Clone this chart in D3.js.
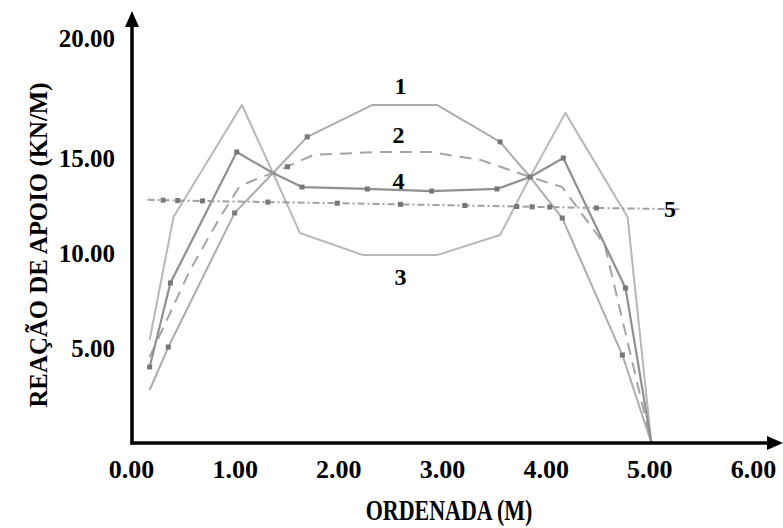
<!DOCTYPE html>
<html>
<head>
<meta charset="utf-8">
<script src="https://cdn.jsdelivr.net/npm/d3@7/dist/d3.min.js"></script>
<style>
  html, body { margin: 0; padding: 0; background: #fff; }
  svg { display: block; }
  text { font-family: "Liberation Serif", "Times New Roman", serif; font-weight: bold; fill: #000; }
</style>
</head>
<body>
<svg id="chart" width="783" height="528"></svg>
<script>
// Support reaction (kN/m) along the ordinate (m) for five load cases
const xTicks = [0, 1, 2, 3, 4, 5, 6];
const yTicks = [5, 10, 15, 20];

const series1 = [[0.18, 2.79], [0.36, 5.05], [1.0, 12.11], [1.37, 14.21], [1.70, 15.88], [2.33, 17.21],
                 [2.95, 17.21], [3.56, 15.67], [3.85, 14.0], [4.16, 11.84], [4.74, 4.63], [5.02, 0]];
const series2 = [[0.18, 4.53], [0.57, 9.11], [0.86, 11.89], [1.05, 13.53], [1.24, 13.95], [1.37, 14.21],
                 [1.76, 15.13], [2.4, 15.25], [2.88, 15.25], [3.37, 14.9], [3.85, 14.0], [4.16, 13.47],
                 [4.57, 10.42], [5.02, 0]];
const series3 = [[0.18, 5.42], [0.41, 11.89], [1.07, 17.21], [1.37, 14.21], [1.63, 11.05], [2.24, 9.89],
                 [2.95, 9.89], [3.56, 10.95], [3.70, 12.42], [3.85, 14.0], [4.19, 16.88], [4.79, 11.89], [5.02, 0]];
const series4 = [[0.18, 4.0], [0.38, 8.42], [1.02, 15.25], [1.37, 14.21], [1.65, 13.47], [2.28, 13.37],
                 [2.90, 13.26], [3.53, 13.37], [3.85, 14.0], [4.17, 15.0], [4.77, 8.16], [5.02, 0]];
const series5 = [[0.16, 12.8], [0.31, 12.78], [0.45, 12.76], [0.69, 12.74], [1.02, 12.71], [1.32, 12.68],
                 [1.99, 12.62], [2.6, 12.56], [3.22, 12.5], [3.72, 12.45], [3.87, 12.43], [4.04, 12.42],
                 [4.49, 12.37], [5.3, 12.3]];

const markers1 = [[0.36, 5.05], [1.0, 12.11], [1.70, 15.88], [3.56, 15.67], [4.16, 11.84], [4.74, 4.63]];
const markers2 = [[1.51, 14.54]];
const markers4 = [[0.18, 4.0], [0.38, 8.42], [1.02, 15.25], [1.65, 13.47], [2.28, 13.37], [2.90, 13.26],
                  [3.53, 13.37], [3.85, 14.0], [4.17, 15.0], [4.77, 8.16]];
const markers5 = [[0.31, 12.78], [0.45, 12.76], [0.69, 12.74], [1.32, 12.68], [1.99, 12.62], [2.6, 12.56],
                  [3.22, 12.5], [3.72, 12.45], [3.87, 12.43], [4.04, 12.42], [4.49, 12.37]];

const curveLabels = [
  { text: "1", x: 2.6, y: 18.0 },
  { text: "2", x: 2.58, y: 15.96 },
  { text: "4", x: 2.58, y: 13.8 },
  { text: "3", x: 2.6, y: 8.75 },
  { text: "5", x: 5.2, y: 12.35 }
];

const svg = d3.select("#chart");
const W = 783;

const x = d3.scaleLinear().domain([0, 6]).range([131, 753]);
const y = d3.scaleLinear().domain([0, 15, 20]).range([443, 158, 38]);

// curves
const line = d3.line().x(d => x(d[0])).y(d => y(d[1]));
const plot = svg.append("g").attr("fill", "none").attr("stroke-linejoin", "round");

plot.append("path").datum(series3).attr("d", line)
  .attr("stroke", "#b8b8b8").attr("stroke-width", 2);
plot.append("path").datum(series1).attr("d", line)
  .attr("stroke", "#acacac").attr("stroke-width", 2);
plot.append("path").datum(series2).attr("d", line)
  .attr("stroke", "#a4a4a4").attr("stroke-width", 2).attr("stroke-dasharray", "12,8");
plot.append("path").datum(series4).attr("d", line)
  .attr("stroke", "#909090").attr("stroke-width", 2.2);
plot.append("path").datum(series5).attr("d", line)
  .attr("stroke", "#a0a0a0").attr("stroke-width", 2).attr("stroke-dasharray", "7,3,2,3");

const mk = svg.append("g").attr("fill", "#777");
const sq = 5;
[markers1, markers2, markers4, markers5].forEach(arr => {
  mk.selectAll(null).data(arr).join("rect")
    .attr("x", d => x(d[0]) - sq / 2).attr("y", d => y(d[1]) - sq / 2)
    .attr("width", sq).attr("height", sq);
});

// axes
const xAxis = d3.axisBottom(x).tickValues(xTicks).tickSize(0).tickFormat(d3.format(".2f"));
const gx = svg.append("g").attr("transform", `translate(0,${y(0)})`).call(xAxis);
gx.select(".domain").remove();
gx.selectAll("text").attr("font-size", 26).attr("font-family", null).attr("fill", "#000")
  .attr("y", 35).attr("dy", 0);

const yAxis = d3.axisLeft(y).tickValues(yTicks).tickSize(0).tickFormat(d3.format(".2f"));
const gy = svg.append("g").attr("transform", `translate(${x(0) + 1},0)`).call(yAxis);
gy.select(".domain").remove();
gy.selectAll("text").attr("font-size", 25).attr("font-family", null).attr("fill", "#000")
  .attr("x", -17).attr("dy", "0.34em");

// axis lines with arrowheads
const ax = svg.append("g");
const x0 = x(0) + 1, y0 = y(0);
ax.append("line").attr("x1", x0).attr("y1", y0 + 1.5).attr("x2", x0).attr("y2", 24)
  .attr("stroke", "#000").attr("stroke-width", 3.5);
ax.append("line").attr("x1", x0 - 1.5).attr("y1", y0).attr("x2", W - 12).attr("y2", y0)
  .attr("stroke", "#000").attr("stroke-width", 3.5);
ax.append("path").attr("d", `M${x0},11 L${x0 - 7},27 L${x0 + 7},27 Z`).attr("fill", "#000");
ax.append("path").attr("d", `M${W},${y0} L${W - 16},${y0 - 7} L${W - 16},${y0 + 7} Z`).attr("fill", "#000");

// axis titles (tall, narrow lettering)
svg.append("text").attr("transform", "translate(449,520) scale(1,1.3)").attr("text-anchor", "middle")
  .attr("font-size", 22).text("ORDENADA (M)");
svg.append("text").attr("transform", "translate(47,245) rotate(-90) scale(1.13,1.15)").attr("text-anchor", "middle")
  .attr("font-size", 22).text("REAÇÃO DE APOIO (KN/M)");

// curve numbers
svg.append("g").selectAll("text").data(curveLabels).join("text")
  .attr("x", d => x(d.x)).attr("y", d => y(d.y)).attr("dy", "0.35em")
  .attr("text-anchor", "middle").attr("font-size", 24).text(d => d.text);
</script>
</body>
</html>
